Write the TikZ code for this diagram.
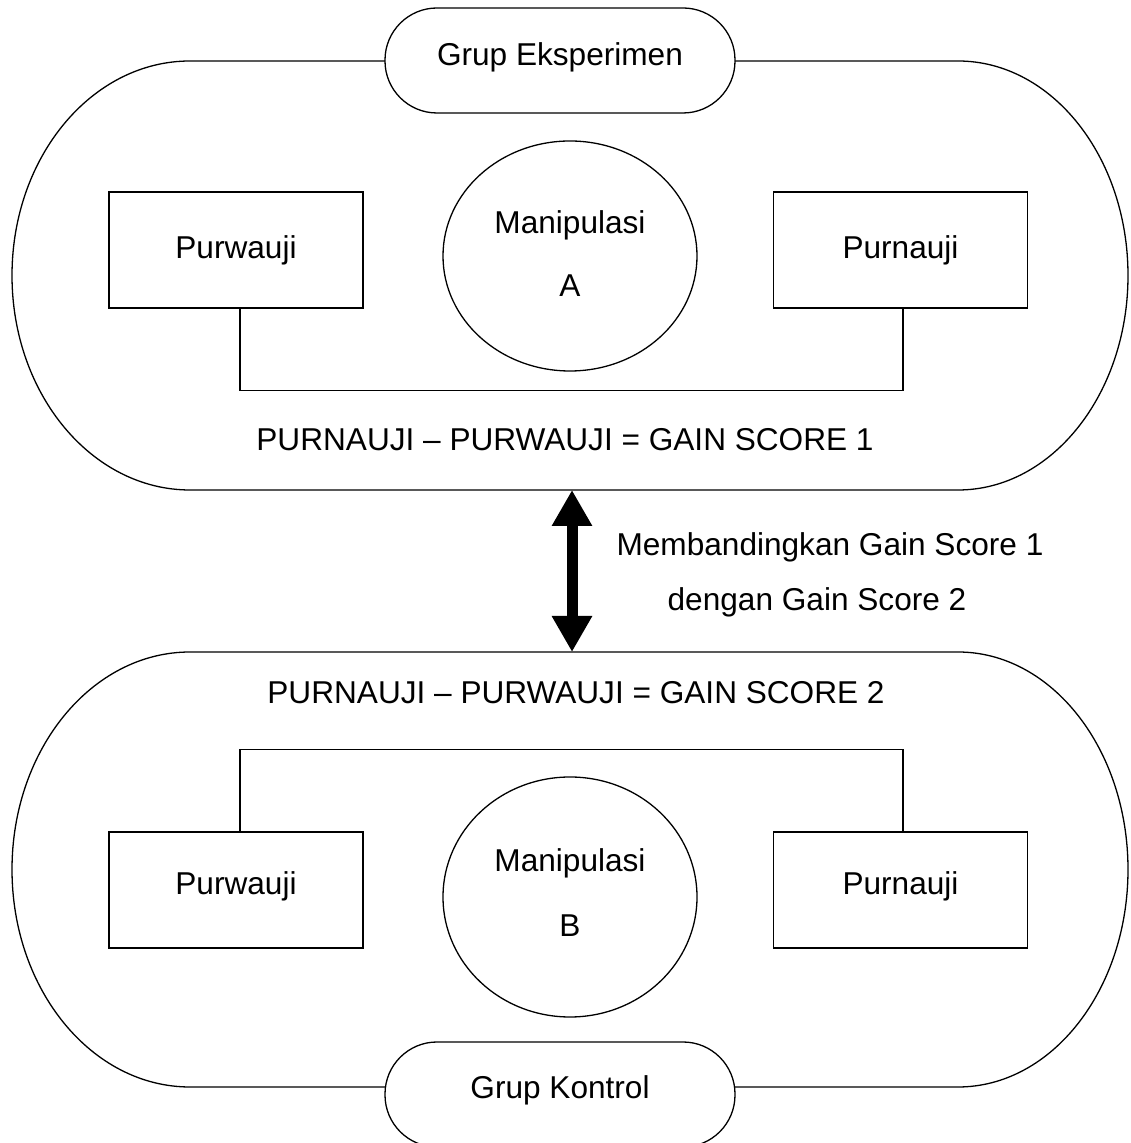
\documentclass[tikz,border=0pt]{standalone}
\usepackage{fontspec}
\setmainfont{Liberation Sans}
\usetikzlibrary{arrows.meta,shapes.geometric}
\begin{document}
\begin{tikzpicture}[x=1pt,y=1pt,
  every node/.style={font=\fontsize{31.6}{38}\selectfont},
  outline/.style={draw=black, line width=1.3pt},
  pill/.style={outline, fill=white, rounded corners=52pt, minimum width=350pt, minimum height=105pt, inner sep=0pt},
  box/.style={outline, fill=white, minimum width=254pt, minimum height=116pt, inner sep=0pt},
  oval/.style={outline, ellipse, minimum width=254pt, inner sep=0pt},
  link/.style={outline},
  bigarrow/.style={line width=11pt, {Triangle[length=36pt,width=38pt]}-{Triangle[length=36pt,width=38pt]}},
]
\useasboundingbox (0,0) rectangle (1130,1143);
\fill[white] (0,0) rectangle (1130,1143);

% group outlines
\draw[outline] (190,1082) -- (958,1082)
  arc[start angle=90, end angle=-90, x radius=170, y radius=214.5]
  -- (190,653)
  arc[start angle=270, end angle=90, x radius=178, y radius=214.5] -- cycle;
\draw[outline] (190,491) -- (958,491)
  arc[start angle=90, end angle=-90, x radius=170, y radius=217.5]
  -- (190,56)
  arc[start angle=270, end angle=90, x radius=178, y radius=217.5] -- cycle;

% experiment group
\node[pill, text height=30pt, text depth=19pt] (grpE) at (560,1082.5) {Grup Eksperimen};
\node[box, text height=30pt, text depth=12pt] (pwA) at (236,893) {Purwauji};
\node[box, text height=30pt, text depth=12pt] (pnA) at (900.5,893) {Purnauji};
\node[oval, minimum height=230pt, text height=24pt, text depth=68pt] (mA) at (570,887)
  {\begin{tabular}[t]{@{}c@{}}Manipulasi\\[25pt]A\end{tabular}};
\draw[link] ([xshift=4pt]pwA.south) -- ++(0,-82) -| ([xshift=2.5pt]pnA.south);
\node[anchor=base] (gs1) at (565,692) {PURNAUJI – PURWAUJI = GAIN SCORE 1};

% comparison arrow
\coordinate (eS) at (572,653);
\coordinate (kN) at (572,491);
\draw[bigarrow] (eS) -- (kN);
\node[anchor=base, inner sep=0pt] (cmp) at (830,587)
  {\begin{tabular}[t]{@{}c@{}}Membandingkan Gain Score 1\\[17pt]dengan Gain Score 2\hspace*{26pt}\end{tabular}};

% control group
\node[anchor=base] (gs2) at (576,439) {PURNAUJI – PURWAUJI = GAIN SCORE 2};
\node[box, text height=28pt, text depth=18pt] (pwB) at (236,253) {Purwauji};
\node[box, text height=28pt, text depth=18pt] (pnB) at (900.5,253) {Purnauji};
\node[oval, minimum height=240pt, text height=24pt, text depth=74pt] (mB) at (570,246)
  {\begin{tabular}[t]{@{}c@{}}Manipulasi\\[27pt]B\end{tabular}};
\draw[link] ([xshift=4pt]pwB.north) -- ++(0,82) -| ([xshift=2.5pt]pnB.north);
\node[pill, text height=30pt, text depth=21pt] (grpK) at (560,48.5) {Grup Kontrol};
\end{tikzpicture}
\end{document}
